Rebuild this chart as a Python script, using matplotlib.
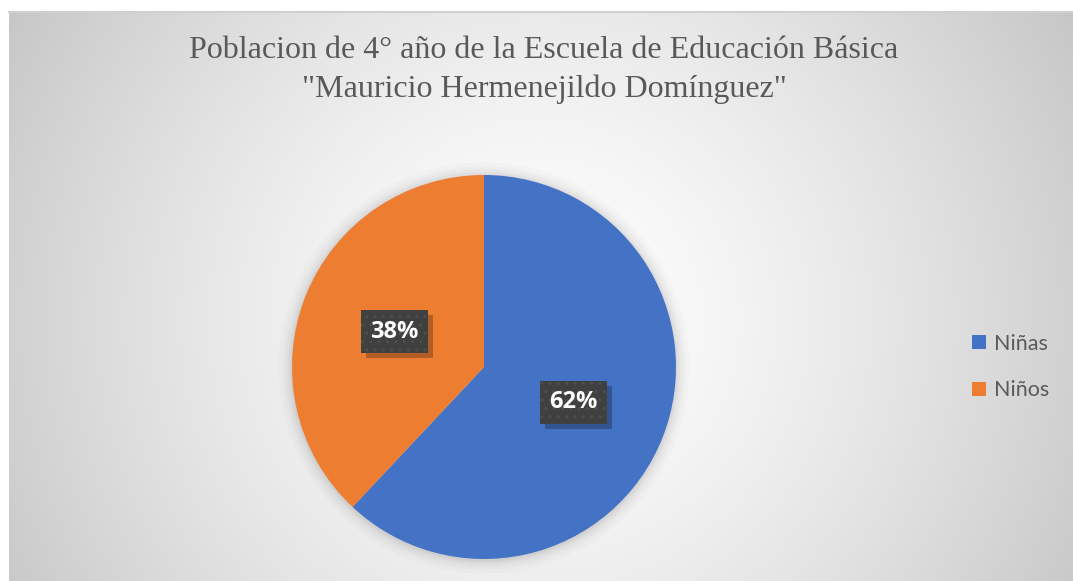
import numpy as np
import matplotlib
matplotlib.use("Agg")
import matplotlib.pyplot as plt
from matplotlib.patches import Circle, Rectangle
from matplotlib.transforms import IdentityTransform

categories = ["Niñas", "Niños"]
values = [62, 38]
colors = ["#4472C4", "#ED7D31"]
title = "Poblacion de 4° año de la Escuela de Educación Básica\n\"Mauricio Hermenejildo Domínguez\""

W, H = 1073, 581
fig = plt.figure(figsize=(W / 100, H / 100), dpi=100, facecolor="white")

# background chart area with radial gradient
x0, y0 = 9, 12  # top-left of chart area in pixels
bg = fig.add_axes([x0 / W, 0, (W - x0) / W, (H - y0) / H])
bg.set_axis_off()
nx, ny = 540, 290
xs = np.linspace(x0, W, nx)
ys = np.linspace(y0, H, ny)
X, Y = np.meshgrid(xs, ys)
cx, cy = 540, 320
d = np.sqrt((X - cx) ** 2 + (Y - cy) ** 2)
d = d / np.sqrt((x0 - cx) ** 2 + (y0 - cy) ** 2)
d = np.clip(d, 0, 1)
v = 1.0 - (1.0 - 0.78) * d ** 1.4
img = np.dstack([v, v, v])
bg.imshow(img, extent=[0, 1, 0, 1], aspect="auto", origin="upper", interpolation="bilinear")
bg.set_xlim(0, 1)
bg.set_ylim(0, 1)
bg.plot([0, 1], [1, 1], color="#d0d0d0", lw=1.5, transform=bg.transAxes, clip_on=False)

# pie axes
pcx, pcy, r = 484, 367, 192
ax = fig.add_axes([(pcx - r) / W, (H - pcy - r) / H, 2 * r / W, 2 * r / H])
ax.set_axis_off()

# soft shadow behind pie
for rr, a in [(1.07, 0.015), (1.05, 0.02), (1.035, 0.025), (1.02, 0.03), (1.008, 0.04)]:
    ax.add_patch(Circle((0.0, -0.005), rr, color="black", alpha=a, lw=0, zorder=0, clip_on=False))

fs = 17
wedges, texts, autotexts = ax.pie(
    values, colors=colors, startangle=90, counterclock=False,
    autopct=lambda p: f"{p:.0f}%", pctdistance=0.5,
    wedgeprops=dict(linewidth=0),
    textprops=dict(color="white", fontsize=fs, fontweight="bold", family="Open Sans"),
)
for t in autotexts:
    t.set_zorder(6)
    t.set_bbox(dict(boxstyle="square,pad=0.4", facecolor="#404040", edgecolor="#4e4e4e",
                    hatch="..", linewidth=0))
ax.set_xlim(-1, 1)
ax.set_ylim(-1, 1)
ax.set_aspect("equal")

# drop shadows for the label boxes (placed from the rendered box extents)
fig.canvas.draw()
for t in autotexts:
    ext = t.get_bbox_patch().get_window_extent()
    ax.add_patch(Rectangle((ext.x0 + 5, ext.y0 - 5), ext.width, ext.height,
                           transform=IdentityTransform(), facecolor="black", alpha=0.25,
                           lw=0, zorder=4, clip_on=False))

# title
fig.text(544 / W, 1 - 70 / H, title, ha="center", va="center", fontsize=23,
         family="Liberation Serif", color="#595959", linespacing=1.42)

# legend
leg = fig.legend(wedges, categories, loc="center left", bbox_to_anchor=(953 / W, 1 - 367 / H),
                 frameon=False, handlelength=0.65, handleheight=0.65, handletextpad=0.35,
                 labelspacing=1.25, labelcolor="#595959",
                 prop=dict(family="Lato", size=15.5))

fig.savefig("out.png", dpi=100, facecolor="white")
